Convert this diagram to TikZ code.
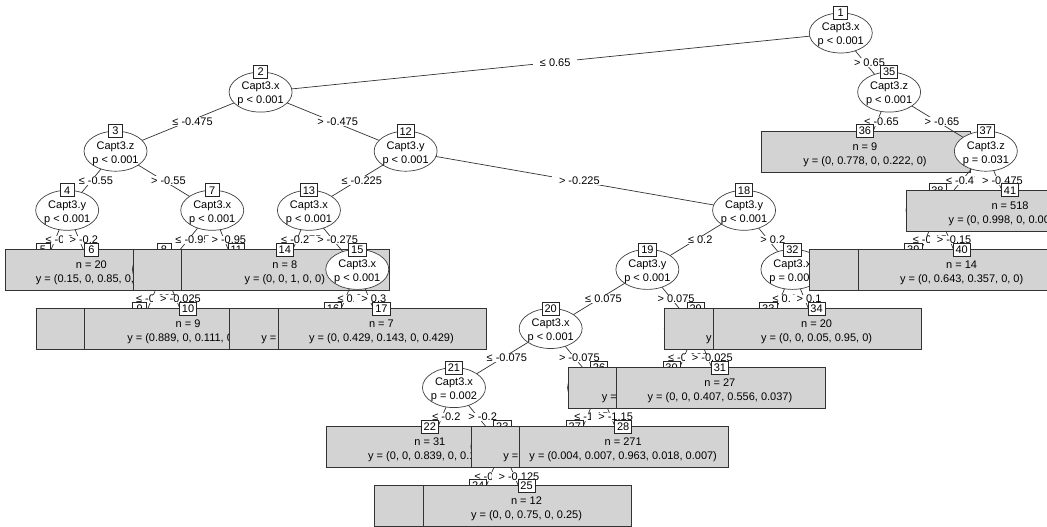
\documentclass[tikz,border=0pt]{standalone}
\usepackage{fontspec}
\setmainfont{Liberation Sans}
\usetikzlibrary{shapes.geometric}
\definecolor{termgray}{HTML}{D3D3D3}
\tikzset{
  edge/.style={draw=black!80, line width=0.7pt},
  elabel/.style={fill=white, inner xsep=7pt, inner ysep=0.4pt, text=black, font=\fontsize{11}{13}\selectfont},
  innerell/.style={ellipse, draw=black!75, fill=white, line width=0.7pt, minimum width=63pt, minimum height=40pt, inner sep=0pt},
  itext/.style={align=center, inner sep=0pt, text=black, font=\fontsize{11}{14}\selectfont},
  idbox/.style={draw=black!85, fill=white, line width=0.7pt, minimum width=14pt, minimum height=13pt, inner xsep=2.5pt, inner ysep=0pt, text=black, font=\fontsize{11}{13}\selectfont},
  tbox/.style={draw=black!80, fill=termgray, line width=0.8pt, minimum height=41pt, inner sep=0pt},
  ttext/.style={inner sep=0pt, text=black, font=\fontsize{11}{13}\selectfont}
}
\newcommand{\ID}[3]{\node[idbox] (i#1) at (#2,#3) {#1};}
\newcommand{\Inner}[5]{%
  \node[innerell] (e#1) at (#2,#3+20) {};
  \node[itext] (x#1) at (#2,#3+22.2) {#4\\#5};
  \ID{#1}{#2}{#3}}
\newcommand{\InnerE}[3]{%
  \node[innerell] (e#1) at (#2,#3+20) {};
  \ID{#1}{#2}{#3}}
\newcommand{\Edge}[3]{\draw[edge] (p#1) -- (p#2) node[elabel, midway, xshift=4.5pt] (l#2) {#3};}
\newcommand{\TBoxLR}[4]{%
  \pgfmathsetmacro{\tbx}{(#2+#3)/2}%
  \pgfmathsetmacro{\tbw}{#3-#2}%
  \node[tbox, minimum width=\tbw pt] (t#1) at (\tbx,#4+20.5) {};}
\newcommand{\TBox}[3]{%
  \pgfmathsetmacro{\tbl}{#2-103.5}%
  \pgfmathsetmacro{\tbr}{#2+105}%
  \TBoxLR{#1}{\tbl}{\tbr}{#3}}
\newcommand{\TText}[4]{%
  \node[ttext, anchor=base] at (#1,#2+19) {#3};
  \node[ttext, anchor=base] at (#1,#2+33) {#4};}
\begin{document}
\begin{tikzpicture}[x=1pt,y=-1pt]
\useasboundingbox (0,0) rectangle (1047,527);
\clip (0,0) rectangle (1047,527);
\fill[white] (0,0) rectangle (1047,527);
% node centres
\coordinate (p1) at (840.78,33);
\coordinate (p2) at (260.58,92.1);
\coordinate (p3) at (115.53,151.2);
\coordinate (p4) at (67.18,210.3);
\coordinate (p5) at (43,269.4);
\coordinate (p6) at (91.35,269.4);
\coordinate (p7) at (212.23,210.3);
\coordinate (p8) at (163.88,269.4);
\coordinate (p9) at (139.7,328.5);
\coordinate (p10) at (188.05,328.5);
\coordinate (p11) at (236.4,269.4);
\coordinate (p12) at (405.63,151.2);
\coordinate (p13) at (308.93,210.3);
\coordinate (p14) at (284.75,269.4);
\coordinate (p15) at (357.28,269.4);
\coordinate (p16) at (333.1,328.5);
\coordinate (p17) at (381.45,328.5);
\coordinate (p18) at (744.08,210.3);
\coordinate (p19) at (647.38,269.4);
\coordinate (p20) at (550.68,328.5);
\coordinate (p21) at (453.98,387.6);
\coordinate (p22) at (429.8,446.7);
\coordinate (p23) at (502.33,446.7);
\coordinate (p24) at (478.15,505.8);
\coordinate (p25) at (526.5,505.8);
\coordinate (p26) at (599.03,387.6);
\coordinate (p27) at (574.85,446.7);
\coordinate (p28) at (623.2,446.7);
\coordinate (p29) at (695.73,328.5);
\coordinate (p30) at (671.55,387.6);
\coordinate (p31) at (719.9,387.6);
\coordinate (p32) at (792.43,269.4);
\coordinate (p33) at (768.25,328.5);
\coordinate (p34) at (816.6,328.5);
\coordinate (p35) at (889.13,92.1);
\coordinate (p36) at (864.95,151.2);
\coordinate (p37) at (985.83,151.2);
\coordinate (p38) at (937.48,210.3);
\coordinate (p39) at (913.3,269.4);
\coordinate (p40) at (961.65,269.4);
\coordinate (p41) at (1010,210.3);
% ---- left subtree of node 1
\Edge{1}{2}{≤ 0.65}
\Edge{2}{3}{≤ -0.475}
\Edge{3}{4}{≤ -0.55}
\Edge{4}{5}{≤ -0.2}
\TBoxLR{5}{5.5}{147}{249.4}
\ID{5}{43}{249.4}
\Edge{4}{6}{> -0.2}
\TBoxLR{6}{5.5}{196.35}{249.4}
\TText{91.35}{249.4}{n = 20}{y = (0.15, 0, 0.85, 0, 0)}
\ID{6}{91.35}{249.4}
\Inner{4}{67.18}{190.3}{Capt3.y}{p < 0.001}
\Edge{3}{7}{> -0.55}
\Edge{7}{8}{≤ -0.95}
\Edge{8}{9}{≤ -0.025}
\TBox{9}{139.7}{308.5}
\ID{9}{139.7}{308.5}
\Edge{8}{10}{> -0.025}
\TBox{10}{188.05}{308.5}
\TText{188.05}{308.5}{n = 9}{y = (0.889, 0, 0.111, 0, 0)}
\ID{10}{188.05}{308.5}
\InnerE{8}{163.88}{249.4}
\Edge{7}{11}{> -0.95}
\TBox{11}{236.4}{249.4}
\ID{11}{236.4}{249.4}
\Inner{7}{212.23}{190.3}{Capt3.x}{p < 0.001}
\Inner{3}{115.53}{131.2}{Capt3.z}{p < 0.001}
\Edge{2}{12}{> -0.475}
\Edge{12}{13}{≤ -0.225}
\Edge{13}{14}{≤ -0.275}
\TBox{14}{284.75}{249.4}
\TText{284.75}{249.4}{n = 8}{y = (0, 0, 1, 0, 0)}
\ID{14}{284.75}{249.4}
\Edge{13}{15}{> -0.275}
\Edge{15}{16}{≤ 0.3}
\TBox{16}{333.1}{308.5}
\node[ttext, anchor=base east] at (276.5,341.5) {y =};
\ID{16}{333.1}{308.5}
\Edge{15}{17}{> 0.3}
\TBox{17}{381.45}{308.5}
\TText{381.45}{308.5}{n = 7}{y = (0, 0.429, 0.143, 0, 0.429)}
\ID{17}{381.45}{308.5}
\Inner{15}{357.28}{249.4}{Capt3.x}{p < 0.001}
\Inner{13}{308.93}{190.3}{Capt3.x}{p < 0.001}
\Edge{12}{18}{> -0.225}
\Edge{18}{19}{≤ 0.2}
\Edge{19}{20}{≤ 0.075}
\Edge{20}{21}{≤ -0.075}
\Edge{21}{22}{≤ -0.2}
\TBox{22}{429.8}{426.7}
\TText{429.8}{426.7}{n = 31}{y = (0, 0, 0.839, 0, 0.161)}
\ID{22}{429.8}{426.7}
\Edge{21}{23}{> -0.2}
\Edge{23}{24}{≤ -0.125}
\TBox{24}{478.15}{485.8}
\ID{24}{478.15}{485.8}
\Edge{23}{25}{> -0.125}
\TBox{25}{526.5}{485.8}
\TText{526.5}{485.8}{n = 12}{y = (0, 0, 0.75, 0, 0.25)}
\ID{25}{526.5}{485.8}
\InnerE{23}{502.33}{426.7}
\Inner{21}{453.98}{367.6}{Capt3.x}{p = 0.002}
\Edge{20}{26}{> -0.075}
\Edge{26}{27}{≤ -1.15}
\TBox{27}{574.85}{426.7}
\node[ttext, anchor=base east] at (518.5,459.7) {y =};
\ID{27}{574.85}{426.7}
\Edge{26}{28}{> -1.15}
\TBox{28}{623.2}{426.7}
\TText{623.2}{426.7}{n = 271}{y = (0.004, 0.007, 0.963, 0.018, 0.007)}
\ID{28}{623.2}{426.7}
\InnerE{26}{599.03}{367.6}
\Inner{20}{550.68}{308.5}{Capt3.x}{p < 0.001}
\Edge{19}{29}{> 0.075}
\Edge{29}{30}{≤ -0.025}
\TBox{30}{671.55}{367.6}
\node[ttext, anchor=base east] at (617,400.6) {y =};
\ID{30}{671.55}{367.6}
\Edge{29}{31}{> -0.025}
\TBox{31}{719.9}{367.6}
\TText{719.9}{367.6}{n = 27}{y = (0, 0, 0.407, 0.556, 0.037)}
\ID{31}{719.9}{367.6}
\InnerE{29}{695.73}{308.5}
\Inner{19}{647.38}{249.4}{Capt3.y}{p < 0.001}
\Edge{18}{32}{> 0.2}
\Edge{32}{33}{≤ 0.1}
\TBox{33}{768.25}{308.5}
\node[ttext, anchor=base west] at (706,341.5) {y =};
\ID{33}{768.25}{308.5}
\Edge{32}{34}{> 0.1}
\TBox{34}{816.6}{308.5}
\TText{816.6}{308.5}{n = 20}{y = (0, 0, 0.05, 0.95, 0)}
\ID{34}{816.6}{308.5}
\Inner{32}{792.43}{249.4}{Capt3.x}{p = 0.00\phantom{0}}
\Inner{18}{744.08}{190.3}{Capt3.y}{p < 0.001}
\Inner{12}{405.63}{131.2}{Capt3.y}{p < 0.001}
\Inner{2}{260.58}{72.1}{Capt3.x}{p < 0.001}
% ---- right subtree of node 1
\Edge{1}{35}{> 0.65}
\Edge{35}{36}{≤ -0.65}
\TBox{36}{864.95}{131.2}
\TText{864.95}{131.2}{n = 9}{y = (0, 0.778, 0, 0.222, 0)}
\ID{36}{864.95}{131.2}
\Edge{35}{37}{> -0.65}
\Edge{37}{38}{≤ -0.475}
\Edge{38}{39}{≤ -0.15}
\TBox{39}{913.3}{249.4}
\ID{39}{913.3}{249.4}
\Edge{38}{40}{> -0.15}
\TBox{40}{961.65}{249.4}
\TText{961.65}{249.4}{n = 14}{y = (0, 0.643, 0.357, 0, 0)}
\ID{40}{961.65}{249.4}
\InnerE{38}{937.48}{190.3}
\Edge{37}{41}{> -0.475}
\TBox{41}{1010}{190.3}
\node[ttext, anchor=base] at (1010,209.3) {n = 518};
\node[ttext, anchor=base west] at (948.5,223.3) {y = (0, 0.998, 0, 0.00};
\ID{41}{1010}{190.3}
\Inner{37}{985.83}{131.2}{Capt3.z}{p = 0.031}
\Inner{35}{889.13}{72.1}{Capt3.z}{p < 0.001}
\Inner{1}{840.78}{13}{Capt3.x}{p < 0.001}
\end{tikzpicture}
\end{document}
